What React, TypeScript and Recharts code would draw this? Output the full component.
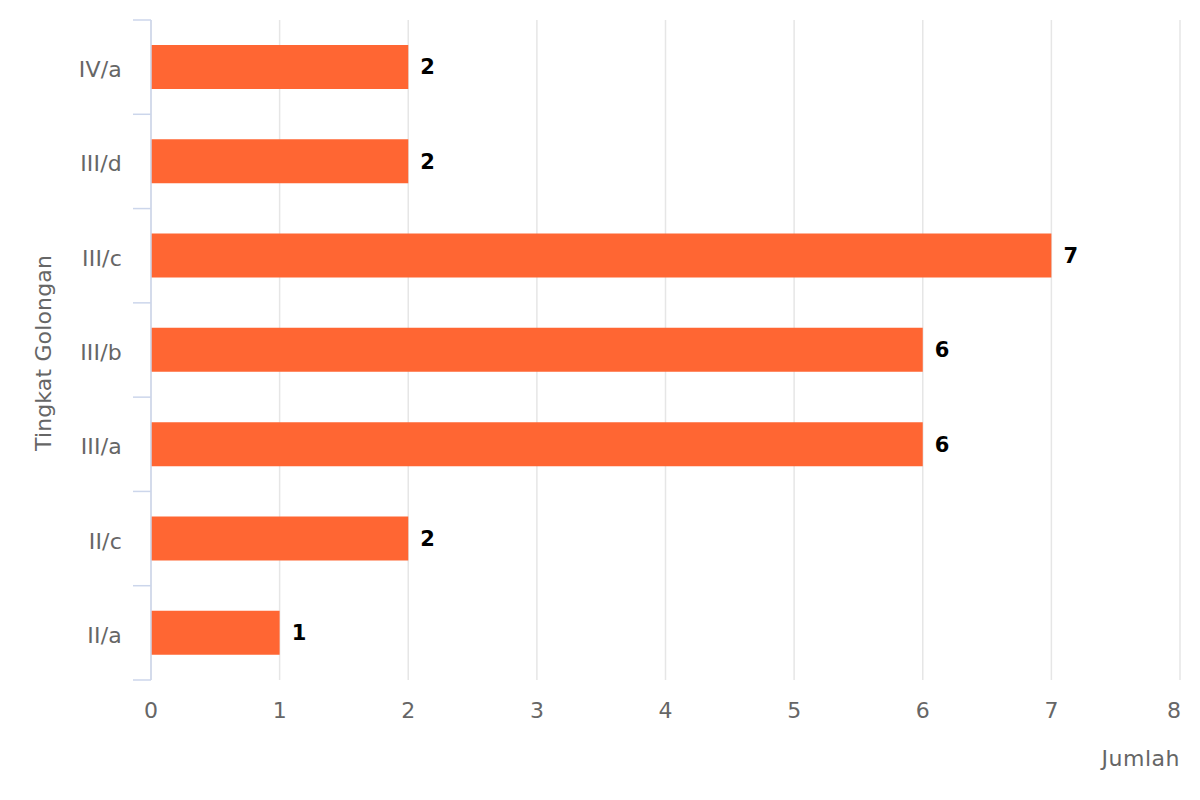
import { Bar, BarChart, CartesianGrid, LabelList, XAxis, YAxis } from "recharts";

const categories = ["IV/a", "III/d", "III/c", "III/b", "III/a", "II/c", "II/a"];
const jumlah = [2, 2, 7, 6, 6, 2, 1];
const xTicks = [0, 1, 2, 3, 4, 5, 6, 7, 8];

const data = categories.map((name, i) => ({ name, value: jumlah[i] }));

const W = 1200;
const H = 800;
const margin = { top: 20, right: 20, bottom: 0, left: 0 };
const X_AXIS_H = 120;
const FONT = "'DejaVu Sans', Verdana, sans-serif";
const GREY = "#666666";
const FS = 22;

const plotH = H - margin.top - margin.bottom - X_AXIS_H;

function CategoryTick(props: any) {
  const { x, y, payload, index } = props;
  const half = payload?.offset || plotH / categories.length / 2;
  const right = x + 29;
  return (
    <g>
      <line x1={right - 18} x2={right} y1={y - half} y2={y - half} stroke="#ccd6eb" strokeWidth={1.5} />
      {index === categories.length - 1 && (
        <line x1={right - 18} x2={right} y1={y + half} y2={y + half} stroke="#ccd6eb" strokeWidth={1.5} />
      )}
      <text
        x={x}
        y={y}
        dy={10}
        textAnchor="end"
        fill={GREY}
        fontSize={FS}
        letterSpacing={0.2}
        fontFamily={FONT}
      >
        {payload.value}
      </text>
    </g>
  );
}

function ValueTick(props: any) {
  const { x, y, payload } = props;
  const last = payload.value === xTicks[xTicks.length - 1];
  return (
    <text
      x={last ? x + 1 : x}
      y={y}
      dy="0.71em"
      textAnchor={last ? "end" : "middle"}
      fill={GREY}
      fontSize={FS}
      fontFamily={FONT}
    >
      {payload.value}
    </text>
  );
}

export default function App() {
  return (
    <div style={{ position: "absolute", left: 0, top: 0, width: W, height: H, background: "#fff" }}>
      <BarChart
        width={W}
        height={H}
        data={data}
        layout="vertical"
        margin={margin}
        style={{ fontFamily: FONT }}
      >
        <CartesianGrid horizontal={false} stroke="#e6e6e6" strokeWidth={1.5} />
        <XAxis
          type="number"
          domain={[0, 8]}
          ticks={xTicks}
          interval={0}
          axisLine={false}
          tickLine={false}
          tickSize={0}
          tickMargin={22}
          height={X_AXIS_H}
          tick={<ValueTick />}
          label={(p: any) => {
            const vb = p.viewBox;
            return (
              <text
                x={vb.x + vb.width}
                y={vb.y + 86}
                textAnchor="end"
                fill={GREY}
                fontSize={FS}
                letterSpacing={0.5}
                fontFamily={FONT}
              >
                Jumlah
              </text>
            );
          }}
        />
        <YAxis
          type="category"
          dataKey="name"
          width={151}
          interval={0}
          tickLine={false}
          tickSize={0}
          tickMargin={29}
          axisLine={{ stroke: "#ccd6eb", strokeWidth: 1.5 }}
          tick={<CategoryTick />}
          label={(p: any) => {
            const vb = p.viewBox;
            const cx = 43;
            const cy = vb.y + vb.height / 2 + 3;
            return (
              <text
                x={cx}
                y={cy}
                transform={`rotate(-90 ${cx} ${cy})`}
                textAnchor="middle"
                dominantBaseline="central"
                fill={GREY}
                fontSize={FS}
                letterSpacing={0.15}
                fontFamily={FONT}
              >
                Tingkat Golongan
              </text>
            );
          }}
        />
        <Bar dataKey="value" fill="#ff6633" barSize={44} isAnimationActive={false}>
          <LabelList
            dataKey="value"
            position="right"
            offset={12}
            fill="#000"
            fontSize={21}
            fontWeight="bold"
            fontFamily={FONT}
          />
        </Bar>
      </BarChart>
    </div>
  );
}
